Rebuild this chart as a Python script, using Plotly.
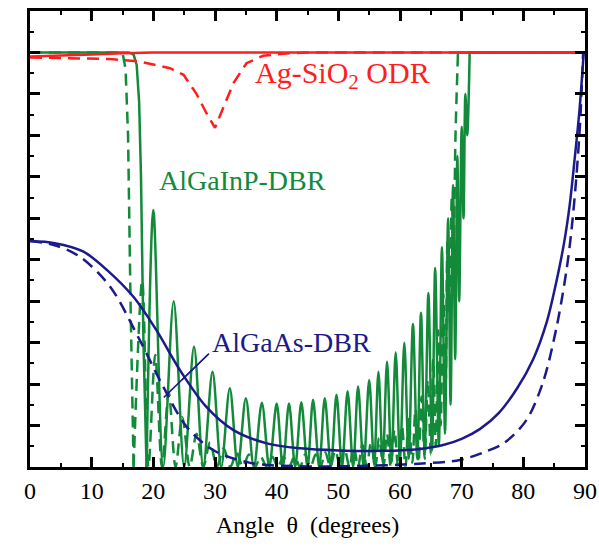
import plotly.graph_objects as go

# ---------------- data ----------------
# Ag-SiO2 ODR
odr_solid_theta = [0, 5, 10, 15, 20, 90]
odr_solid_R = [0.990, 0.992, 0.995, 0.998, 1.0, 1.0]
odr_dash_theta = [0, 13, 17.8, 22.7, 24.9, 27.0, 28.6, 30.0, 31.4, 33.0, 35.1, 37.8, 41.0, 45.0, 90]
odr_dash_R = [0.988, 0.984, 0.978, 0.962, 0.946, 0.90, 0.854, 0.818, 0.869, 0.926, 0.974, 0.992, 0.997, 1.0, 1.0]

# AlGaInP DBR (solid): plateau + edge, oscillations (extrema), upper plateau
gainp_solid_edge_theta = [0, 16.0, 16.8, 17.3, 17.7, 18.0, 18.4, 18.9]
gainp_solid_edge_R = [1.0, 1.0, 0.995, 0.97, 0.88, 0.70, 0.30, 0.0]
gainp_solid_osc_theta = [18.9,
                         20.0, 21.6, 23.3, 25.0, 26.6, 28.1, 29.6, 31.0, 32.4, 33.7, 35.0, 36.3,
                         37.6, 38.8, 40.0, 41.0, 42.0, 43.0, 44.0, 45.0, 45.9, 46.9, 47.8, 48.8,
                         49.7, 50.6, 51.5, 52.4, 53.2, 54.1, 55.0, 55.8, 56.5, 57.2, 57.9, 58.6,
                         59.3, 60.0, 60.7, 61.4, 62.1, 62.8, 63.4, 64.0, 64.6, 65.2, 65.7, 66.3,
                         66.8, 67.3, 67.8, 68.2, 68.6, 68.95, 69.3, 69.6, 70.0, 70.3, 70.6, 70.9,
                         71.3]
gainp_solid_osc_R = [0.0,
                     0.62, 0.0, 0.40, 0.0, 0.29, 0.0, 0.23, 0.0, 0.19, 0.0, 0.166, 0.0,
                     0.155, 0.0, 0.153, 0.0, 0.153, 0.0, 0.156, 0.0, 0.162, 0.0, 0.166, 0.0,
                     0.174, 0.0, 0.183, 0.0, 0.194, 0.0, 0.21, 0.005, 0.23, 0.01, 0.254, 0.01,
                     0.276, 0.015, 0.30, 0.02, 0.345, 0.02, 0.372, 0.03, 0.42, 0.04, 0.48, 0.05,
                     0.53, 0.08, 0.60, 0.15, 0.68, 0.26, 0.75, 0.40, 0.82, 0.60, 0.90, 0.80,
                     1.0]
gainp_solid_top_theta = [71.3, 90]
gainp_solid_top_R = [1.0, 1.0]

# AlGaInP DBR (dashed)
gainp_dash_edge_theta = [0, 15.0, 15.5, 15.9, 16.3, 16.8]
gainp_dash_edge_R = [1.0, 1.0, 0.96, 0.80, 0.40, 0.0]
gainp_dash_osc_theta = [16.8,
                        18.2, 19.2, 20.3, 21.4, 22.5, 23.6, 24.7, 25.9, 27.0, 28.1, 29.2, 30.3,
                        31.4, 32.5, 33.5, 34.5, 35.5, 36.5, 37.4, 38.4, 39.3, 40.2, 41.1, 42.0,
                        42.9, 43.8, 44.6, 45.5, 46.3, 47.1, 47.9, 48.7, 49.5, 50.3, 51.0, 51.8,
                        52.5, 53.2, 53.9, 54.6, 55.3, 56.0, 56.6, 57.3, 57.9, 58.5, 59.1, 59.7,
                        60.3, 60.9, 61.4, 62.0, 62.5, 63.0, 63.5, 64.0, 64.5, 65.0, 65.4, 65.8,
                        66.2, 66.6, 67.0, 67.4, 67.7, 68.1, 68.4, 68.7, 69.0, 69.4]
gainp_dash_osc_R = [0.0,
                    0.45, 0.0, 0.27, 0.0, 0.18, 0.0, 0.12, 0.0, 0.08, 0.0, 0.06, 0.0,
                    0.045, 0.0, 0.035, 0.0, 0.03, 0.0, 0.025, 0.0, 0.025, 0.0, 0.025, 0.0,
                    0.025, 0.0, 0.03, 0.0, 0.03, 0.0, 0.035, 0.0, 0.04, 0.0, 0.045, 0.0,
                    0.05, 0.0, 0.055, 0.0, 0.06, 0.0, 0.07, 0.0, 0.08, 0.0, 0.09, 0.0,
                    0.10, 0.0, 0.12, 0.01, 0.14, 0.01, 0.17, 0.02, 0.21, 0.03, 0.26, 0.05,
                    0.33, 0.10, 0.42, 0.20, 0.55, 0.35, 0.65, 0.55, 0.80, 1.0]
gainp_dash_top_theta = [69.4, 90]
gainp_dash_top_R = [1.0, 1.0]

# AlGaAs DBR
gaas_solid_theta = [0, 4, 8.6, 12.5, 16.8, 20.5, 24.3, 28.6, 33.0, 38.4, 43.8, 50.0, 57.0, 63.0,
                    67.0, 70.0, 73.0, 76.0, 79.0, 81.6, 83.8, 85.4, 86.6, 87.5, 88.3, 89.1, 89.8]
gaas_solid_R = [0.545, 0.540, 0.52, 0.475, 0.41, 0.33, 0.234, 0.145, 0.089, 0.057, 0.045, 0.040,
                0.039, 0.043, 0.053, 0.068, 0.092, 0.13, 0.19, 0.26, 0.35, 0.45, 0.54, 0.63, 0.74,
                0.86, 1.0]
gaas_dash_theta = [0, 4, 8.1, 13.0, 17.8, 21.6, 25.4, 29.7, 35.7, 43.0, 55.0, 63.0, 69.7, 73.5,
                   76.8, 80.5, 83.2, 85.4, 87.0, 87.8, 88.6, 89.2, 89.7]
gaas_dash_R = [0.545, 0.535, 0.507, 0.435, 0.306, 0.194, 0.097, 0.041, 0.010, 0.002, 0.003, 0.008,
               0.017, 0.035, 0.057, 0.113, 0.205, 0.338, 0.475, 0.57, 0.70, 0.83, 1.0]

# text labels
label_texts = ["Ag-SiO<sub>2</sub> ODR", "AlGaInP-DBR", "AlGaAs-DBR"]
label_theta = [36.2, 20.6, 29.2]
label_R = [0.945, 0.69, 0.30]
label_sizes = [30, 28, 28]
# leader lines of the AlGaAs label: start and two ends
leader_start = (29.0, 0.273)
leader_end_theta = [24.6, 21.7]
leader_end_R = [0.21, 0.168]

x_ticks = [0, 10, 20, 30, 40, 50, 60, 70, 80, 90]

GREEN = "#138a3a"
BLUE = "#1c1a8a"
RED = "#ff1e1e"
FONT = "'Liberation Serif', 'Times New Roman', Times, serif"
DASH = "12px,7px"
LW = 2.5

fig = go.Figure()


def add_line(x, y, color, dash=None, spline=False):
    line = dict(color=color, width=LW)
    if dash:
        line["dash"] = dash
    if spline:
        line["shape"] = "spline"
        line["smoothing"] = 0.9
    fig.add_trace(go.Scatter(x=x, y=y, mode="lines", line=line, hoverinfo="skip"))


# AlGaInP (green)
add_line(gainp_dash_edge_theta, gainp_dash_edge_R, GREEN, DASH)
add_line(gainp_dash_osc_theta, gainp_dash_osc_R, GREEN, DASH, spline=True)
add_line(gainp_dash_top_theta, gainp_dash_top_R, GREEN, DASH)
add_line(gainp_solid_edge_theta, gainp_solid_edge_R, GREEN)
add_line(gainp_solid_osc_theta, gainp_solid_osc_R, GREEN, spline=True)
add_line(gainp_solid_top_theta, gainp_solid_top_R, GREEN)
# AlGaAs (blue)
add_line(gaas_dash_theta, gaas_dash_R, BLUE, DASH, spline=True)
add_line(gaas_solid_theta, gaas_solid_R, BLUE, spline=True)
# ODR (red)
add_line(odr_dash_theta, odr_dash_R, RED, DASH)
add_line(odr_solid_theta, odr_solid_R, RED)

# leader lines
for ex, ey in zip(leader_end_theta, leader_end_R):
    fig.add_trace(go.Scatter(x=[leader_start[0], ex], y=[leader_start[1], ey], mode="lines",
                             line=dict(color=BLUE, width=1.5), hoverinfo="skip"))

label_colors = [RED, GREEN, BLUE]
for t, lx, ly, c, s in zip(label_texts, label_theta, label_R, label_colors, label_sizes):
    fig.add_annotation(x=lx, y=ly, text=t, showarrow=False, xanchor="left", yanchor="middle",
                       font=dict(family=FONT, size=s, color=c))

fig.update_layout(
    width=599, height=548,
    margin=dict(l=30, r=14, t=11, b=81, autoexpand=False),
    paper_bgcolor="white", plot_bgcolor="white",
    showlegend=False,
    font=dict(family=FONT, size=24, color="black"),
)
fig.update_xaxes(range=[0, 90], tickvals=x_ticks, ticktext=[str(v) for v in x_ticks],
                 automargin=False,
                 showgrid=False, zeroline=False,
                 showline=True, linecolor="black", linewidth=3, mirror="allticks",
                 ticks="inside", ticklen=10, tickwidth=3, tickcolor="black",
                 minor=dict(dtick=5, ticks="inside", ticklen=4, tickwidth=2, tickcolor="black"),
                 tickfont=dict(family=FONT, size=24), ticklabelstandoff=0,
                 title=dict(text="Angle\u00a0\u00a0θ\u00a0\u00a0(degrees)", font=dict(family=FONT, size=24), standoff=14))
fig.update_yaxes(range=[0, 1.1], dtick=0.1, tick0=0, showticklabels=False,
                 automargin=False,
                 showgrid=False, zeroline=False,
                 showline=True, linecolor="black", linewidth=3, mirror="allticks",
                 ticks="inside", ticklen=10, tickwidth=3, tickcolor="black",
                 minor=dict(dtick=0.05, ticks="inside", ticklen=4, tickwidth=2, tickcolor="black"))

fig.write_html("out.html")
